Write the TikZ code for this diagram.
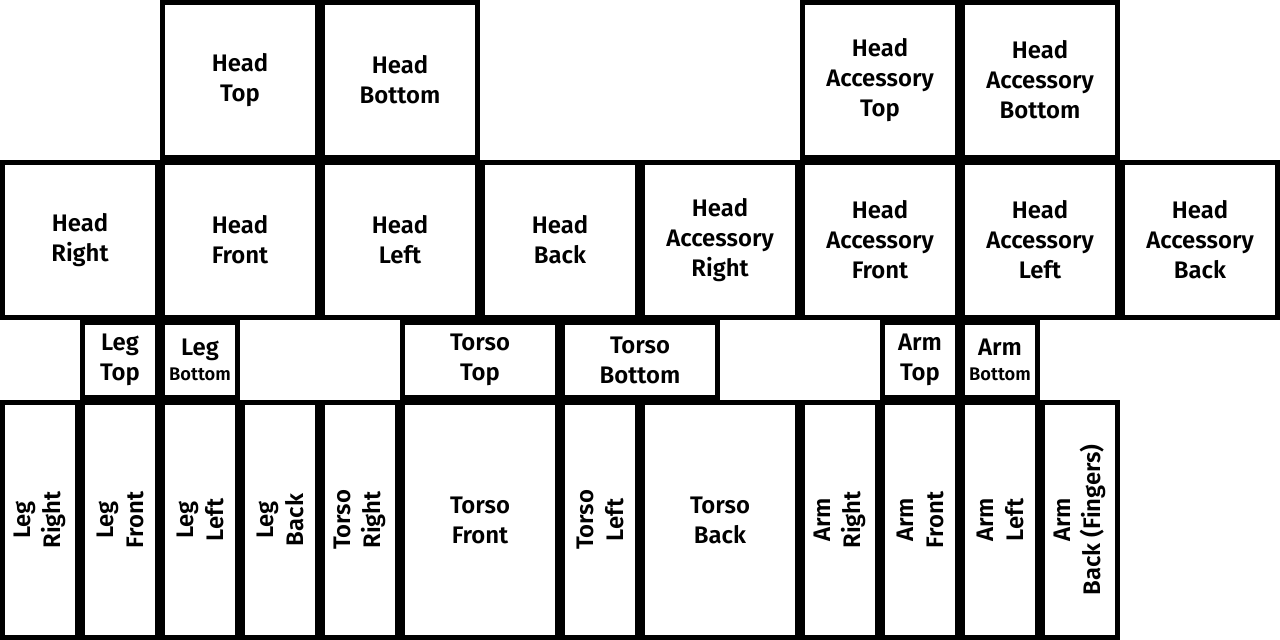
\documentclass[tikz,border=0pt]{standalone}
\usepackage{fontspec}
\setmainfont{Fira Sans}[BoldFont={Fira Sans SemiBold}]
\begin{document}
\begin{tikzpicture}[x=0.5cm,y=-0.5cm,
  box/.style={draw=black, line width=3.56pt, fill=white, align=center, inner sep=0pt,
    font=\fontsize{17}{21.3}\selectfont\bfseries},
  part/.style 2 args={box, minimum width={#1*0.5cm-0.125cm}, minimum height={#2*0.5cm-0.125cm}},
  vpart/.style 2 args={box, rotate=90, minimum width={#2*0.5cm-0.125cm}, minimum height={#1*0.5cm-0.125cm}}]
\useasboundingbox[fill=white] (0,0) rectangle (64,32);
\newcommand\smallword[1]{{\fontsize{13}{15}\selectfont #1}}
% row 1
\node[part={8}{8}] (headtop) at (12,4) {Head\\Top};
\node[part={8}{8}] (headbottom) at (20,4) {Head\\Bottom};
\node[part={8}{8}] (hattop) at (44,4) {Head\\Accessory\\Top};
\node[part={8}{8}] (hatbottom) at (52,4) {Head\\Accessory\\Bottom};
% row 2
\node[part={8}{8}] (headright) at (4,12) {Head\\Right};
\node[part={8}{8}] (headfront) at (12,12) {Head\\Front};
\node[part={8}{8}] (headleft) at (20,12) {Head\\Left};
\node[part={8}{8}] (headback) at (28,12) {Head\\Back};
\node[part={8}{8}] (hatright) at (36,12) {Head\\Accessory\\Right};
\node[part={8}{8}] (hatfront) at (44,12) {Head\\Accessory\\Front};
\node[part={8}{8}] (hatleft) at (52,12) {Head\\Accessory\\Left};
\node[part={8}{8}] (hatback) at (60,12) {Head\\Accessory\\Back};
% row 3
\node[part={4}{4}] (legtop) at (6,18) {Leg\\Top};
\node[part={4}{4}] (legbottom) at (10,18) {Leg\\[-4pt]\smallword{Bottom}};
\node[part={8}{4}] (torsotop) at (24,18) {Torso\\Top};
\node[part={8}{4}] (torsobottom) at (32,18) {Torso\\Bottom};
\node[part={4}{4}] (armtop) at (46,18) {Arm\\Top};
\node[part={4}{4}] (armbottom) at (50,18) {Arm\\[-4pt]\smallword{Bottom}};
% row 4
\node[vpart={4}{12}] (legright) at (2,26) {Leg\\Right};
\node[vpart={4}{12}] (legfront) at (6,26) {Leg\\Front};
\node[vpart={4}{12}] (legleft) at (10,26) {Leg\\Left};
\node[vpart={4}{12}] (legback) at (14,26) {Leg\\Back};
\node[vpart={4}{12}] (torsoright) at (18,26) {Torso\\Right};
\node[part={8}{12}] (torsofront) at (24,26) {Torso\\Front};
\node[vpart={4}{12}] (torsoleft) at (30,26) {Torso\\Left};
\node[part={8}{12}] (torsoback) at (36,26) {Torso\\Back};
\node[vpart={4}{12}] (armright) at (42,26) {Arm\\Right};
\node[vpart={4}{12}] (armfront) at (46,26) {Arm\\Front};
\node[vpart={4}{12}] (armleft) at (50,26) {Arm\\Left};
\node[vpart={4}{12}] (armback) at (54,26) {Arm\\Back (Fingers)};
\end{tikzpicture}
\end{document}
